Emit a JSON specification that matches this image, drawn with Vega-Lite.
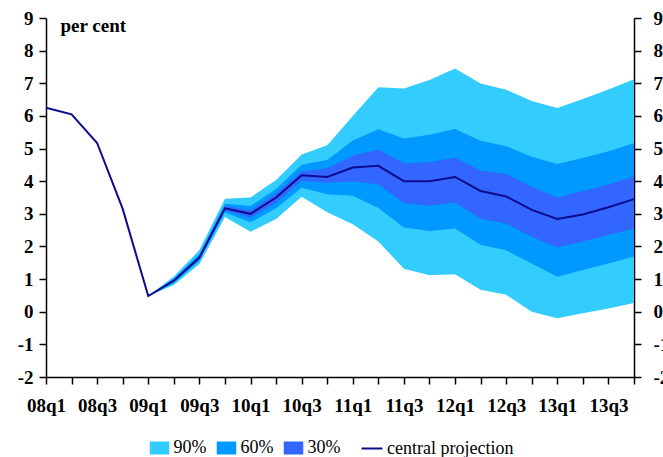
{
  "$schema": "https://vega.github.io/schema/vega-lite/v6.json",
  "width": 588,
  "height": 359,
  "autosize": {"type": "none"},
  "padding": {"left": 46, "top": 18, "right": 29, "bottom": 80},
  "config": {"view": {"stroke": null}, "font": "Liberation Serif"},
  "data": {"values": [
    {"q": "08q1", "c": 6.25, "u90": null, "l90": null, "u60": null, "l60": null, "u30": null, "l30": null},
    {"q": "08q2", "c": 6.05, "u90": null, "l90": null, "u60": null, "l60": null, "u30": null, "l30": null},
    {"q": "08q3", "c": 5.17, "u90": null, "l90": null, "u60": null, "l60": null, "u30": null, "l30": null},
    {"q": "08q4", "c": 3.15, "u90": null, "l90": null, "u60": null, "l60": null, "u30": null, "l30": null},
    {"q": "09q1", "c": 0.48, "u90": 0.48, "l90": 0.48, "u60": 0.48, "l60": 0.48, "u30": 0.48, "l30": 0.48},
    {"q": "09q2", "c": 0.95, "u90": 1.08, "l90": 0.82, "u60": 1.02, "l60": 0.88, "u30": 0.98, "l30": 0.92},
    {"q": "09q3", "c": 1.66, "u90": 1.89, "l90": 1.46, "u60": 1.77, "l60": 1.56, "u30": 1.71, "l30": 1.61},
    {"q": "09q4", "c": 3.17, "u90": 3.46, "l90": 2.9, "u60": 3.31, "l60": 3.04, "u30": 3.24, "l30": 3.1},
    {"q": "10q1", "c": 3.0, "u90": 3.5, "l90": 2.45, "u60": 3.24, "l60": 2.74, "u30": 3.11, "l30": 2.88},
    {"q": "10q2", "c": 3.5, "u90": 4.04, "l90": 2.84, "u60": 3.76, "l60": 3.17, "u30": 3.62, "l30": 3.35},
    {"q": "10q3", "c": 4.18, "u90": 4.82, "l90": 3.52, "u60": 4.5, "l60": 3.8, "u30": 4.3, "l30": 4.02},
    {"q": "10q4", "c": 4.13, "u90": 5.1, "l90": 3.05, "u60": 4.65, "l60": 3.6, "u30": 4.4, "l30": 3.95},
    {"q": "11q1", "c": 4.42, "u90": 6.0, "l90": 2.68, "u60": 5.25, "l60": 3.55, "u30": 4.78, "l30": 4.0},
    {"q": "11q2", "c": 4.47, "u90": 6.88, "l90": 2.15, "u60": 5.59, "l60": 3.18, "u30": 4.97, "l30": 3.9},
    {"q": "11q3", "c": 4.0, "u90": 6.84, "l90": 1.32, "u60": 5.31, "l60": 2.58, "u30": 4.55, "l30": 3.33},
    {"q": "11q4", "c": 4.0, "u90": 7.1, "l90": 1.12, "u60": 5.42, "l60": 2.47, "u30": 4.58, "l30": 3.25},
    {"q": "12q1", "c": 4.13, "u90": 7.45, "l90": 1.15, "u60": 5.6, "l60": 2.55, "u30": 4.72, "l30": 3.35},
    {"q": "12q2", "c": 3.7, "u90": 6.99, "l90": 0.67, "u60": 5.24, "l60": 2.05, "u30": 4.33, "l30": 2.85},
    {"q": "12q3", "c": 3.53, "u90": 6.8, "l90": 0.52, "u60": 5.07, "l60": 1.88, "u30": 4.22, "l30": 2.7},
    {"q": "12q4", "c": 3.12, "u90": 6.46, "l90": 0.0, "u60": 4.75, "l60": 1.48, "u30": 3.83, "l30": 2.3},
    {"q": "13q1", "c": 2.84, "u90": 6.24, "l90": -0.2, "u60": 4.53, "l60": 1.07, "u30": 3.5, "l30": 1.97},
    {"q": "13q2", "c": 2.98, "u90": 6.52, "l90": -0.05, "u60": 4.71, "l60": 1.28, "u30": 3.7, "l30": 2.15},
    {"q": "13q3", "c": 3.2, "u90": 6.81, "l90": 0.1, "u60": 4.92, "l60": 1.48, "u30": 3.9, "l30": 2.35},
    {"q": "13q4", "c": 3.45, "u90": 7.12, "l90": 0.27, "u60": 5.16, "l60": 1.69, "u30": 4.14, "l30": 2.55}
  ]},
  "encoding": {
    "x": {
      "field": "q", "type": "ordinal", "sort": null,
      "scale": {"type": "point", "padding": 0},
      "axis": {
        "title": null, "grid": false, "labelAngle": 0,
        "labelExpr": "(substring(datum.label, 3, 4) == '1' || substring(datum.label, 3, 4) == '3') ? datum.label : ''",
        "labelFont": "Liberation Serif", "labelFontSize": 19, "labelFontWeight": "bold", "labelColor": "#000",
        "labelPadding": 12, "labelOverlap": false, "labelFlush": false, "labelBound": false,
        "tickColor": "#000", "tickSize": 7, "tickWidth": 1.5,
        "domainColor": "#000", "domainWidth": 1.5
      }
    }
  },
  "layer": [
    {
      "mark": {"type": "area"},
      "encoding": {
        "y": {
          "field": "u90", "type": "quantitative",
          "scale": {"domain": [-2, 9], "nice": false, "zero": false},
          "axis": {
            "orient": "left", "grid": false,
            "values": [-2, -1, 0, 1, 2, 3, 4, 5, 6, 7, 8, 9],
            "labelExpr": "datum.value < 0 ? '-' + abs(datum.value) : datum.label",
            "title": "per cent", "titleAngle": 0, "titleX": 14, "titleY": 13,
            "titleAlign": "left", "titleBaseline": "alphabetic",
            "titleFont": "Liberation Serif", "titleFontSize": 19, "titleFontWeight": "bold", "titleColor": "#000",
            "labelFont": "Liberation Serif", "labelFontSize": 19, "labelFontWeight": "bold", "labelColor": "#000",
            "labelPadding": 6, "labelFlush": false, "labelBound": false, "labelOverlap": false,
            "tickColor": "#000", "tickSize": 7, "tickWidth": 1.5,
            "domainColor": "#000", "domainWidth": 1.5
          }
        },
        "y2": {"field": "l90"},
        "fill": {
          "datum": "90%", "type": "nominal",
          "scale": {"domain": ["90%", "60%", "30%"], "range": ["#33CCFF", "#0099FF", "#3366FF"]},
          "legend": {
            "orient": "none", "legendX": 104.5, "legendY": 421, "direction": "horizontal",
            "title": null, "padding": 0,
            "symbolType": "M-1.5,-1H1.5V1H-1.5Z", "symbolSize": 169, "symbolStrokeWidth": 0, "symbolOpacity": 1,
            "labelFont": "Liberation Serif", "labelFontSize": 18, "labelColor": "#000",
            "labelOffset": 5, "columnPadding": 10
          }
        }
      }
    },
    {
      "mark": {"type": "area"},
      "encoding": {
        "y": {"field": "u60", "type": "quantitative", "axis": null},
        "y2": {"field": "l60"},
        "fill": {"datum": "60%", "type": "nominal"}
      }
    },
    {
      "mark": {"type": "area"},
      "encoding": {
        "y": {"field": "u30", "type": "quantitative", "axis": null},
        "y2": {"field": "l30"},
        "fill": {"datum": "30%", "type": "nominal"}
      }
    },
    {
      "mark": {"type": "line", "strokeWidth": 2},
      "encoding": {
        "y": {
          "field": "c", "type": "quantitative",
          "axis": {
            "orient": "right", "grid": false, "title": null,
            "values": [-2, -1, 0, 1, 2, 3, 4, 5, 6, 7, 8, 9],
            "labelExpr": "datum.value < 0 ? '-' + abs(datum.value) : datum.label",
            "labelFont": "Liberation Serif", "labelFontSize": 19, "labelFontWeight": "bold", "labelColor": "#000",
            "labelPadding": 12, "labelFlush": false, "labelBound": false, "labelOverlap": false,
            "tickColor": "#000", "tickSize": 7, "tickWidth": 1.5,
            "domainColor": "#000", "domainWidth": 1.5
          }
        },
        "stroke": {
          "datum": "central projection", "type": "nominal",
          "scale": {"domain": ["central projection"], "range": ["#0c0c8c"]},
          "legend": {
            "orient": "none", "legendX": 314.5, "legendY": 419, "direction": "horizontal",
            "title": null, "padding": 0,
            "symbolType": "stroke", "symbolSize": 441, "symbolStrokeWidth": 2,
            "labelFont": "Liberation Serif", "labelFontSize": 18, "labelColor": "#000",
            "labelOffset": 3.5
          }
        }
      }
    }
  ],
  "resolve": {"axis": {"y": "independent"}}
}
